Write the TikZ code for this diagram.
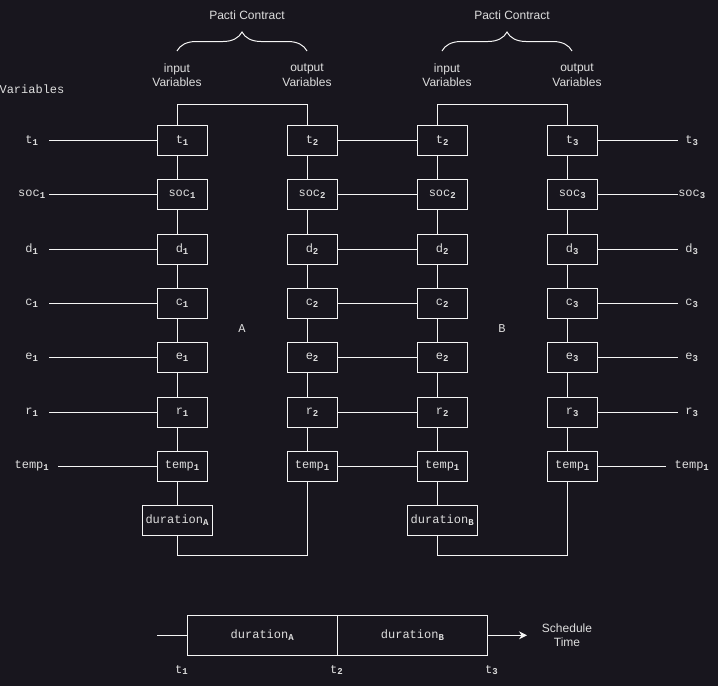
\documentclass[tikz,border=0pt]{standalone}
\usepackage{fontspec}
\setmainfont{Liberation Sans}
\setsansfont{Liberation Sans}
\setmonofont{Liberation Mono}
\usepackage{xcolor}
\usepackage{tikz}
\usetikzlibrary{arrows.meta,decorations.pathreplacing}
\definecolor{bgdark}{RGB}{24,22,30}
\definecolor{ink}{RGB}{245,245,245}
\definecolor{txt}{RGB}{222,222,222}
\newcommand{\sbs}[1]{\textsubscript{\fontsize{9}{9}\selectfont\bfseries #1}}

\begin{document}
\begin{tikzpicture}[x=1pt,y=-1pt,line width=1pt,color=ink,every node/.style={font=\fontsize{12}{14.5}\selectfont\ttfamily,text=txt,align=center,inner sep=0pt},varbox/.style={draw=ink,minimum width=50pt,minimum height=30pt},durbox/.style={draw=ink,minimum width=70pt,minimum height=30pt},slot/.style={draw=ink,minimum width=150pt,minimum height=40pt},leftlbl/.style={minimum width=32pt},rightlbl/.style={minimum width=28pt},sanslbl/.style={font=\fontsize{12}{14.5}\selectfont\sffamily},brace/.style={decorate,decoration={brace,amplitude=19pt}}]
\useasboundingbox (0,0) rectangle (718,686);
\fill[bgdark] (0,0) rectangle (718,686);
\node[sanslbl] (pacti-a) at (247,15) {Pacti Contract};
\draw[brace] (177,51) -- (307,51);
\node[sanslbl] (in-a) at (177,75) {input\\Variables};
\node[sanslbl] (out-a) at (307,75) {output\\Variables};
\node[sanslbl] (pacti-b) at (512,15) {Pacti Contract};
\draw[brace] (442,51) -- (572,51);
\node[sanslbl] (in-b) at (447,75) {input\\Variables};
\node[sanslbl] (out-b) at (577,75) {output\\Variables};
\node (vars) at (32,89) {Variables};
\node (lbl-a) at (242,329) {A};
\node (lbl-b) at (502,329) {B};
\node[varbox] (ai-t) at (182.3,140.3) {t\sbs{1}};
\node[varbox] (ai-soc) at (182.3,194.5) {soc\sbs{1}};
\draw ([xshift=-5pt]ai-t.south) -- ([xshift=-5pt]ai-soc.north);
\node[varbox] (ai-d) at (182.3,249.3) {d\sbs{1}};
\draw ([xshift=-5pt]ai-soc.south) -- ([xshift=-5pt]ai-d.north);
\node[varbox] (ai-c) at (182.3,303.2) {c\sbs{1}};
\draw ([xshift=-5pt]ai-d.south) -- ([xshift=-5pt]ai-c.north);
\node[varbox] (ai-e) at (182.3,357.3) {e\sbs{1}};
\draw ([xshift=-5pt]ai-c.south) -- ([xshift=-5pt]ai-e.north);
\node[varbox] (ai-r) at (182.3,412.3) {r\sbs{1}};
\draw ([xshift=-5pt]ai-e.south) -- ([xshift=-5pt]ai-r.north);
\node[varbox] (ai-temp) at (182.3,466.2) {temp\sbs{1}};
\draw ([xshift=-5pt]ai-r.south) -- ([xshift=-5pt]ai-temp.north);
\node[durbox] (dur-a) at (177.3,520.3) {duration\sbs{A}};
\draw ([xshift=-5pt]ai-temp.south) -- (dur-a.north);
\node[varbox] (ao-t) at (312.3,140.3) {t\sbs{2}};
\node[varbox] (ao-soc) at (312.3,194.5) {soc\sbs{2}};
\draw ([xshift=-5pt]ao-t.south) -- ([xshift=-5pt]ao-soc.north);
\node[varbox] (ao-d) at (312.3,249.3) {d\sbs{2}};
\draw ([xshift=-5pt]ao-soc.south) -- ([xshift=-5pt]ao-d.north);
\node[varbox] (ao-c) at (312.3,303.2) {c\sbs{2}};
\draw ([xshift=-5pt]ao-d.south) -- ([xshift=-5pt]ao-c.north);
\node[varbox] (ao-e) at (312.3,357.3) {e\sbs{2}};
\draw ([xshift=-5pt]ao-c.south) -- ([xshift=-5pt]ao-e.north);
\node[varbox] (ao-r) at (312.3,412.3) {r\sbs{2}};
\draw ([xshift=-5pt]ao-e.south) -- ([xshift=-5pt]ao-r.north);
\node[varbox] (ao-temp) at (312.3,466.2) {temp\sbs{1}};
\draw ([xshift=-5pt]ao-r.south) -- ([xshift=-5pt]ao-temp.north);
\draw ([xshift=-5pt]ai-t.north) -- ++(0,-20) -| ([xshift=-5pt]ao-t.north);
\draw (dur-a.south) -- ++(0,20) -| ([xshift=-5pt]ao-temp.south);
\node[varbox] (bi-t) at (442.5,140.3) {t\sbs{2}};
\node[varbox] (bi-soc) at (442.5,194.5) {soc\sbs{2}};
\draw ([xshift=-5pt]bi-t.south) -- ([xshift=-5pt]bi-soc.north);
\node[varbox] (bi-d) at (442.5,249.3) {d\sbs{2}};
\draw ([xshift=-5pt]bi-soc.south) -- ([xshift=-5pt]bi-d.north);
\node[varbox] (bi-c) at (442.5,303.2) {c\sbs{2}};
\draw ([xshift=-5pt]bi-d.south) -- ([xshift=-5pt]bi-c.north);
\node[varbox] (bi-e) at (442.5,357.3) {e\sbs{2}};
\draw ([xshift=-5pt]bi-c.south) -- ([xshift=-5pt]bi-e.north);
\node[varbox] (bi-r) at (442.5,412.3) {r\sbs{2}};
\draw ([xshift=-5pt]bi-e.south) -- ([xshift=-5pt]bi-r.north);
\node[varbox] (bi-temp) at (442.5,466.2) {temp\sbs{1}};
\draw ([xshift=-5pt]bi-r.south) -- ([xshift=-5pt]bi-temp.north);
\node[durbox] (dur-b) at (442.5,520.3) {duration\sbs{B}};
\draw ([xshift=-5pt]bi-temp.south) -- ([xshift=-5pt]dur-b.north);
\node[varbox] (bo-t) at (572.5,140.3) {t\sbs{3}};
\node[varbox] (bo-soc) at (572.5,194.5) {soc\sbs{3}};
\draw ([xshift=-5pt]bo-t.south) -- ([xshift=-5pt]bo-soc.north);
\node[varbox] (bo-d) at (572.5,249.3) {d\sbs{3}};
\draw ([xshift=-5pt]bo-soc.south) -- ([xshift=-5pt]bo-d.north);
\node[varbox] (bo-c) at (572.5,303.2) {c\sbs{3}};
\draw ([xshift=-5pt]bo-d.south) -- ([xshift=-5pt]bo-c.north);
\node[varbox] (bo-e) at (572.5,357.3) {e\sbs{3}};
\draw ([xshift=-5pt]bo-c.south) -- ([xshift=-5pt]bo-e.north);
\node[varbox] (bo-r) at (572.5,412.3) {r\sbs{3}};
\draw ([xshift=-5pt]bo-e.south) -- ([xshift=-5pt]bo-r.north);
\node[varbox] (bo-temp) at (572.5,466.2) {temp\sbs{1}};
\draw ([xshift=-5pt]bo-r.south) -- ([xshift=-5pt]bo-temp.north);
\draw ([xshift=-5pt]bi-t.north) -- ++(0,-20) -| ([xshift=-5pt]bo-t.north);
\draw ([xshift=-5pt]dur-b.south) -- ++(0,20) -| ([xshift=-5pt]bo-temp.south);
\node[leftlbl] (l-t) at (32,140.3) {t\sbs{1}};
\draw (ai-t.west) -- (ai-t.west -| l-t.east);
\node[leftlbl] (l-soc) at (32,194.5) {soc\sbs{1}};
\draw (ai-soc.west) -- (ai-soc.west -| l-soc.east);
\node[leftlbl] (l-d) at (32,249.3) {d\sbs{1}};
\draw (ai-d.west) -- (ai-d.west -| l-d.east);
\node[leftlbl] (l-c) at (32,303.2) {c\sbs{1}};
\draw (ai-c.west) -- (ai-c.west -| l-c.east);
\node[leftlbl] (l-e) at (32,357.3) {e\sbs{1}};
\draw (ai-e.west) -- (ai-e.west -| l-e.east);
\node[leftlbl] (l-r) at (32,412.3) {r\sbs{1}};
\draw (ai-r.west) -- (ai-r.west -| l-r.east);
\node[leftlbl] (l-temp) at (32,466.2) {temp\sbs{1}};
\draw (ai-temp.west) -- ([xshift=8pt]ai-temp.west -| l-temp.east);
\draw (ao-t.east) -- (bi-t.west);
\draw (ao-soc.east) -- (bi-soc.west);
\draw (ao-d.east) -- (bi-d.west);
\draw (ao-c.east) -- (bi-c.west);
\draw (ao-e.east) -- (bi-e.west);
\draw (ao-r.east) -- (bi-r.west);
\draw (ao-temp.east) -- (bi-temp.west);
\node[rightlbl] (r-t) at (692,140.3) {t\sbs{3}};
\draw (bo-t.east) -- (bo-t.east -| r-t.west);
\node[rightlbl] (r-soc) at (692,194.5) {soc\sbs{3}};
\draw (bo-soc.east) -- (bo-soc.east -| r-soc.west);
\node[rightlbl] (r-d) at (692,249.3) {d\sbs{3}};
\draw (bo-d.east) -- (bo-d.east -| r-d.west);
\node[rightlbl] (r-c) at (692,303.2) {c\sbs{3}};
\draw (bo-c.east) -- (bo-c.east -| r-c.west);
\node[rightlbl] (r-e) at (692,357.3) {e\sbs{3}};
\draw (bo-e.east) -- (bo-e.east -| r-e.west);
\node[rightlbl] (r-r) at (692,412.3) {r\sbs{3}};
\draw (bo-r.east) -- (bo-r.east -| r-r.west);
\node[rightlbl] (r-temp) at (692,466.2) {temp\sbs{1}};
\draw (bo-temp.east) -- ([xshift=-8pt]bo-temp.east -| r-temp.west);
\node[slot] (tl-a) at (262.5,635.3) {duration\sbs{A}};
\node[slot] (tl-b) at (412.7,635.3) {duration\sbs{B}};
\coordinate (tl-in) at (157.3,635.3);
\draw (tl-in) -- (tl-a.west);
\coordinate (tl-out) at (527,635.3);
\draw[-{Stealth[length=8pt,width=8pt]}] (tl-b.east) -- (tl-out);
\node[sanslbl] (sched) at (567,635) {Schedule\\Time};
\node (tl-t1) at (181.7,670) {t\sbs{1}};
\node (tl-t2) at (336.7,670) {t\sbs{2}};
\node (tl-t3) at (491.7,670) {t\sbs{3}};
\end{tikzpicture}
\end{document}
